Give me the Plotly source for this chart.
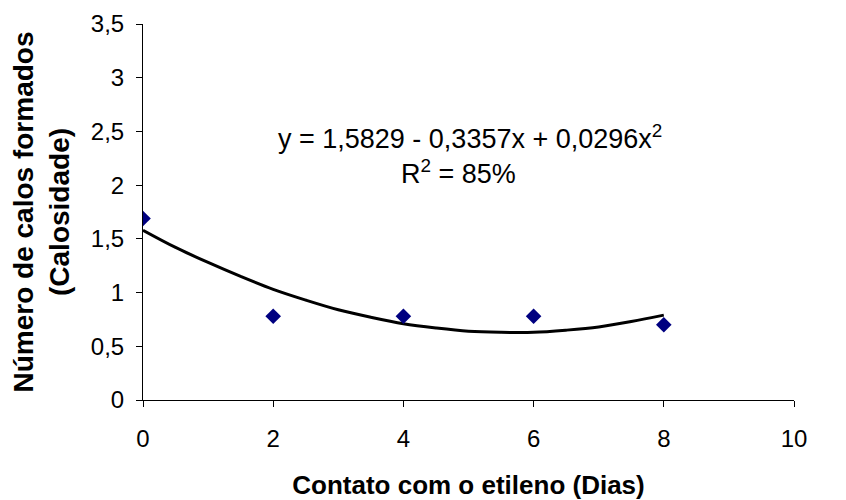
import plotly.graph_objects as go

# Observed data (days of ethylene contact vs. number of calluses)
dias = [0, 2, 4, 6, 8]
calos = [1.69, 0.78, 0.78, 0.78, 0.70]

# Fitted trend line
curva_x = [0, 0.5, 1, 1.5, 2, 2.5, 3, 3.5, 4, 4.5, 5, 5.5, 6, 6.5, 7, 7.5, 8]
curva_y = [1.58, 1.42, 1.28, 1.15, 1.03, 0.93, 0.84, 0.77, 0.71, 0.67, 0.64, 0.63, 0.63, 0.65, 0.68, 0.73, 0.79]

x_ticks = [0, 2, 4, 6, 8, 10]
y_ticks = [0, 0.5, 1, 1.5, 2, 2.5, 3, 3.5]
y_labels = ["0", "0,5", "1", "1,5", "2", "2,5", "3", "3,5"]

FONT = "Liberation Sans, Arial, sans-serif"

fig = go.Figure()
fig.add_trace(go.Scatter(x=curva_x, y=curva_y, mode="lines",
                         line=dict(color="black", width=3, shape="spline"),
                         showlegend=False, hoverinfo="skip"))
fig.add_trace(go.Scatter(x=dias, y=calos, mode="markers",
                         marker=dict(symbol="diamond", color="#000080", size=12),
                         showlegend=False))

fig.add_annotation(x=5.02, y=2.45, xref="x", yref="y",
                   text="y = 1,5829 - 0,3357x + 0,0296x<sup>2</sup>",
                   showarrow=False, font=dict(family=FONT, size=27, color="black"))
fig.add_annotation(x=4.85, y=2.12, xref="x", yref="y",
                   text="R<sup>2</sup> = 85%",
                   showarrow=False, font=dict(family=FONT, size=27, color="black"))

fig.update_layout(
    width=838, height=492,
    margin=dict(l=135, r=52, t=16, b=100),
    paper_bgcolor="white", plot_bgcolor="white",
    font=dict(family=FONT, size=24, color="black"),
    xaxis=dict(range=[0, 10], tickvals=x_ticks, ticktext=[str(v) for v in x_ticks],
               showgrid=False, zeroline=False, showline=True, linecolor="black",
               linewidth=1, ticks="outside", ticklen=6, tickcolor="black",
               tickfont=dict(size=24), ticklabelstandoff=11, automargin=False,
               title=dict(text="<b>Contato com o etileno (Dias)</b>",
                          font=dict(size=26), standoff=29)),
    yaxis=dict(range=[0, 3.5], tickvals=y_ticks, ticktext=y_labels,
               showgrid=False, zeroline=False, showline=True, linecolor="black",
               linewidth=1, ticks="outside", ticklen=6, tickcolor="black",
               tickfont=dict(size=24), ticklabelstandoff=7, automargin=False,
               title=dict(text="<b>Número de calos formados<br>(Calosidade)</b>",
                          font=dict(size=28), standoff=14)),
)

fig.write_html("out.html")
